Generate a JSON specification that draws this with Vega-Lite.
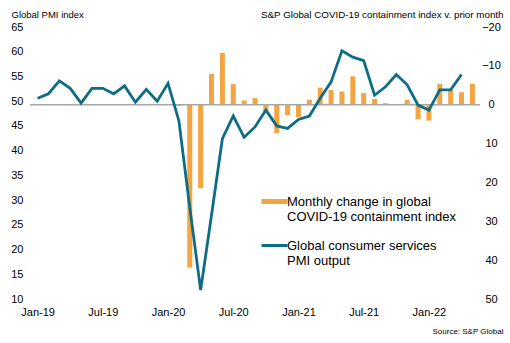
{
  "$schema": "https://vega.github.io/schema/vega-lite/v6.json",
  "width": 450,
  "height": 272,
  "autosize": {"type": "none"},
  "padding": {"left": 30, "top": 27, "right": 30, "bottom": 44},
  "background": "white",
  "config": {
    "view": {"stroke": null},
    "font": "Liberation Sans",
    "axis": {"labelFont": "Liberation Sans", "titleFont": "Liberation Sans", "labelColor": "#000000", "titleColor": "#000000", "titleFontWeight": "normal", "grid": false, "domain": false, "ticks": false, "labelOverlap": false}
  },
  "data": {
    "values": [
      {"m": "Jan-19", "pmi": 50.6, "chg": null},
      {"m": "Feb-19", "pmi": 51.5, "chg": null},
      {"m": "Mar-19", "pmi": 54.1, "chg": null},
      {"m": "Apr-19", "pmi": 52.6, "chg": null},
      {"m": "May-19", "pmi": 49.6, "chg": null},
      {"m": "Jun-19", "pmi": 52.6, "chg": null},
      {"m": "Jul-19", "pmi": 52.6, "chg": null},
      {"m": "Aug-19", "pmi": 51.5, "chg": null},
      {"m": "Sep-19", "pmi": 53.1, "chg": null},
      {"m": "Oct-19", "pmi": 49.8, "chg": null},
      {"m": "Nov-19", "pmi": 52.4, "chg": null},
      {"m": "Dec-19", "pmi": 50.0, "chg": null},
      {"m": "Jan-20", "pmi": 53.6, "chg": 0},
      {"m": "Feb-20", "pmi": 46.0, "chg": 0.3},
      {"m": "Mar-20", "pmi": 28.5, "chg": 41.9},
      {"m": "Apr-20", "pmi": 11.8, "chg": 21.5},
      {"m": "May-20", "pmi": 27.0, "chg": -7.9},
      {"m": "Jun-20", "pmi": 42.4, "chg": -13.3},
      {"m": "Jul-20", "pmi": 47.0, "chg": -5.3},
      {"m": "Aug-20", "pmi": 42.7, "chg": -1.1},
      {"m": "Sep-20", "pmi": 44.8, "chg": -1.7},
      {"m": "Oct-20", "pmi": 48.2, "chg": 2.1},
      {"m": "Nov-20", "pmi": 45.0, "chg": 7.3},
      {"m": "Dec-20", "pmi": 44.5, "chg": 2.7},
      {"m": "Jan-21", "pmi": 46.3, "chg": 3.2},
      {"m": "Feb-21", "pmi": 47.0, "chg": -1.3},
      {"m": "Mar-21", "pmi": 50.6, "chg": -4.4},
      {"m": "Apr-21", "pmi": 53.9, "chg": -3.8},
      {"m": "May-21", "pmi": 60.2, "chg": -3.4},
      {"m": "Jun-21", "pmi": 58.9, "chg": -7.3},
      {"m": "Jul-21", "pmi": 58.2, "chg": -3.0},
      {"m": "Aug-21", "pmi": 51.2, "chg": -1.5},
      {"m": "Sep-21", "pmi": 52.9, "chg": -0.4},
      {"m": "Oct-21", "pmi": 55.4, "chg": 0},
      {"m": "Nov-21", "pmi": 53.3, "chg": -1.3},
      {"m": "Dec-21", "pmi": 49.2, "chg": 3.8},
      {"m": "Jan-22", "pmi": 48.2, "chg": 4.1},
      {"m": "Feb-22", "pmi": 52.3, "chg": -5.4},
      {"m": "Mar-22", "pmi": 52.3, "chg": -3.8},
      {"m": "Apr-22", "pmi": 55.4, "chg": -3.2},
      {"m": "May-22", "pmi": null, "chg": -5.4}
    ]
  },
  "layer": [
    {
      "layer": [
        {
          "mark": {"type": "bar", "width": 5},
          "encoding": {
            "x": {
              "field": "m", "type": "ordinal",
              "scale": {"type": "point", "padding": 0.7, "domain": ["Jan-19","Feb-19","Mar-19","Apr-19","May-19","Jun-19","Jul-19","Aug-19","Sep-19","Oct-19","Nov-19","Dec-19","Jan-20","Feb-20","Mar-20","Apr-20","May-20","Jun-20","Jul-20","Aug-20","Sep-20","Oct-20","Nov-20","Dec-20","Jan-21","Feb-21","Mar-21","Apr-21","May-21","Jun-21","Jul-21","Aug-21","Sep-21","Oct-21","Nov-21","Dec-21","Jan-22","Feb-22","Mar-22","Apr-22","May-22"]},
              "axis": {"values": ["Jan-19","Jul-19","Jan-20","Jul-20","Jan-21","Jul-21","Jan-22"], "labelAngle": 0, "labelPadding": 7, "labelFontSize": 11, "title": "Source: S&P Global", "titleFontSize": 8, "titleAlign": "right", "titleAnchor": null, "titleBaseline": "alphabetic", "titleX": 473, "titleY": 34}
            },
            "y": {
              "field": "chg", "type": "quantitative",
              "scale": {"domain": [-20, 50], "reverse": true, "nice": false, "zero": false},
              "axis": {"orient": "right", "values": [-20,-10,0,10,20,30,40,50], "labelOverlap": false, "labelAlign": "center", "labelPadding": 11, "labelFontSize": 11, "title": "S&P Global COVID-19 containment index v. prior month", "titleFontSize": 9.8, "titleAngle": 0, "titleAlign": "right", "titleAnchor": null, "titleBaseline": "alphabetic", "titleX": 23, "titleY": -10}
            },
            "color": {
              "datum": "Monthly change in global COVID-19 containment index", "type": "nominal",
              "scale": {"domain": ["Monthly change in global COVID-19 containment index", "Global consumer services PMI output"], "range": ["#F2A541", "#0E6C84"]},
              "legend": {
                "orient": "none", "legendX": 238, "legendY": 168, "title": null,
                "symbolType": "stroke", "symbolSize": 676, "symbolStrokeWidth": 4,
                "labelFont": "Liberation Sans", "labelFontSize": 13, "labelColor": "#000000", "labelLimit": 0, "labelOffset": 6, "labelBaseline": "middle",
                "rowPadding": 15,
                "labelExpr": "datum.label == 'Monthly change in global COVID-19 containment index' ? ['Monthly change in global', 'COVID-19 containment index'] : ['Global consumer services', 'PMI output']",
                "encode": {
                  "symbols": {"update": {"stroke": {"scale": "color", "field": "value"}, "fill": {"value": "transparent"}, "strokeWidth": {"signal": "datum.value == 'Monthly change in global COVID-19 containment index' ? 5 : 3"}}}
                }
              }
            }
          }
        },
        {
          "data": {"values": [{}]},
          "mark": {"type": "rule", "color": "#A6A6A6", "strokeWidth": 1.5},
          "encoding": {"y": {"datum": 0, "type": "quantitative",
            "axis": {"orient": "right", "values": [-20,-10,0,10,20,30,40,50], "labelOverlap": false, "labelAlign": "center", "labelPadding": 11, "labelFontSize": 11, "title": "S&P Global COVID-19 containment index v. prior month", "titleFontSize": 9.8, "titleAngle": 0, "titleAlign": "right", "titleAnchor": null, "titleBaseline": "alphabetic", "titleX": 23, "titleY": -10}}}
        }
      ]
    },
    {
      "mark": {"type": "line", "color": "#0E6C84", "strokeWidth": 2.8, "strokeJoin": "miter"},
      "encoding": {
        "x": {
          "field": "m", "type": "ordinal",
          "scale": {"type": "point", "padding": 0.7, "domain": ["Jan-19","Feb-19","Mar-19","Apr-19","May-19","Jun-19","Jul-19","Aug-19","Sep-19","Oct-19","Nov-19","Dec-19","Jan-20","Feb-20","Mar-20","Apr-20","May-20","Jun-20","Jul-20","Aug-20","Sep-20","Oct-20","Nov-20","Dec-20","Jan-21","Feb-21","Mar-21","Apr-21","May-21","Jun-21","Jul-21","Aug-21","Sep-21","Oct-21","Nov-21","Dec-21","Jan-22","Feb-22","Mar-22","Apr-22","May-22"]},
          "axis": {"values": ["Jan-19","Jul-19","Jan-20","Jul-20","Jan-21","Jul-21","Jan-22"], "labelAngle": 0, "labelPadding": 7, "labelFontSize": 11, "title": "Source: S&P Global", "titleFontSize": 8, "titleAlign": "right", "titleAnchor": null, "titleBaseline": "alphabetic", "titleX": 473, "titleY": 34}
        },
        "y": {
          "field": "pmi", "type": "quantitative",
          "scale": {"domain": [10, 65], "nice": false, "zero": false},
          "axis": {"orient": "left", "values": [10,15,20,25,30,35,40,45,50,55,60,65], "labelPadding": 7, "labelFontSize": 11, "title": "Global PMI index", "titleFontSize": 9.5, "titleAngle": 0, "titleAlign": "left", "titleAnchor": null, "titleBaseline": "alphabetic", "titleX": -19, "titleY": -10}
        },
        "color": {"datum": "Global consumer services PMI output", "type": "nominal"}
      }
    }
  ],
  "resolve": {"scale": {"y": "independent"}}
}
